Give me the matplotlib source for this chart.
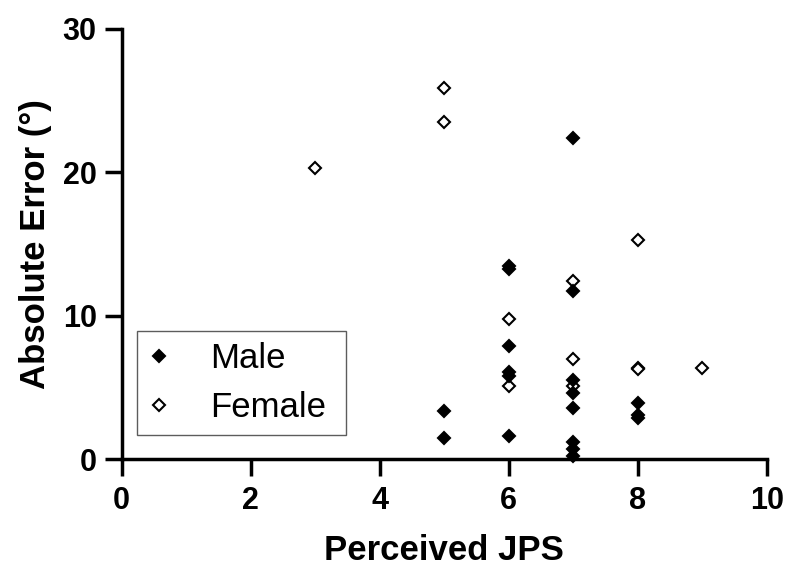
import numpy as np
import matplotlib
matplotlib.use("Agg")
import matplotlib.pyplot as plt

plt.rcParams['font.family'] = ['Liberation Sans', 'DejaVu Sans']

# Datos (JPS percibido vs error absoluto)
male_x = [5, 5, 6, 6, 6, 6, 6, 6, 7, 7, 7, 7, 7, 7, 7, 7, 8, 8, 8]
male_y = [3.4, 1.5, 13.5, 13.3, 7.9, 6.1, 5.8, 1.6,
          22.4, 11.7, 5.5, 4.6, 3.6, 1.2, 0.75, 0.25,
          3.95, 3.1, 2.9]

female_x = [3, 5, 5, 6, 6, 7, 7, 7, 8, 8, 8, 9]
female_y = [20.3, 25.9, 23.5, 9.8, 5.1, 12.4, 7.0, 5.1, 15.3, 6.4, 6.3, 6.4]

x_ticks = [0, 2, 4, 6, 8, 10]
y_ticks = [0, 10, 20, 30]

fig = plt.figure(figsize=(7.9, 5.79), dpi=100)
ax = fig.add_axes([0.154, 0.2067, 0.8165, 0.7433])

ax.plot(female_x, female_y, linestyle='none', marker='D', markersize=6.5,
        markerfacecolor='white', markeredgecolor='black', markeredgewidth=1.5,
        label='Female', clip_on=False, zorder=3)
ax.plot(male_x, male_y, linestyle='none', marker='D', markersize=6.5,
        markerfacecolor='black', markeredgecolor='black', markeredgewidth=1.5,
        label='Male', clip_on=False, zorder=4)

ax.set_xlim(0, 10)
ax.set_ylim(0, 30)
ax.set_xticks(x_ticks)
ax.set_yticks(y_ticks)

for side in ['top', 'right']:
    ax.spines[side].set_visible(False)
for side in ['left', 'bottom']:
    ax.spines[side].set_linewidth(2.5)

ax.tick_params(direction='out', length=12, width=2.5, labelsize=22)
ax.tick_params(axis='x', pad=7)
ax.tick_params(axis='y', pad=6)
for lab in ax.get_xticklabels() + ax.get_yticklabels():
    lab.set_fontweight('bold')

ax.set_xlabel('Perceived JPS', fontsize=25, fontweight='bold', labelpad=13)
ax.set_ylabel('Absolute Error (°)', fontsize=25, fontweight='bold', labelpad=8)

# Leyenda con Male primero
handles, labels = ax.get_legend_handles_labels()
leg = ax.legend(handles[::-1], labels[::-1], loc='lower left',
                bbox_to_anchor=(0.0242, 0.0565, 0.324, 0.2), mode='expand',
                borderaxespad=0, fontsize=25, frameon=True, fancybox=False,
                borderpad=0.32, labelspacing=0.45, handlelength=0.64,
                handletextpad=1.14)
leg.get_frame().set_edgecolor('#333333')
leg.get_frame().set_linewidth(1.0)

plt.savefig('out.png', dpi=100)
